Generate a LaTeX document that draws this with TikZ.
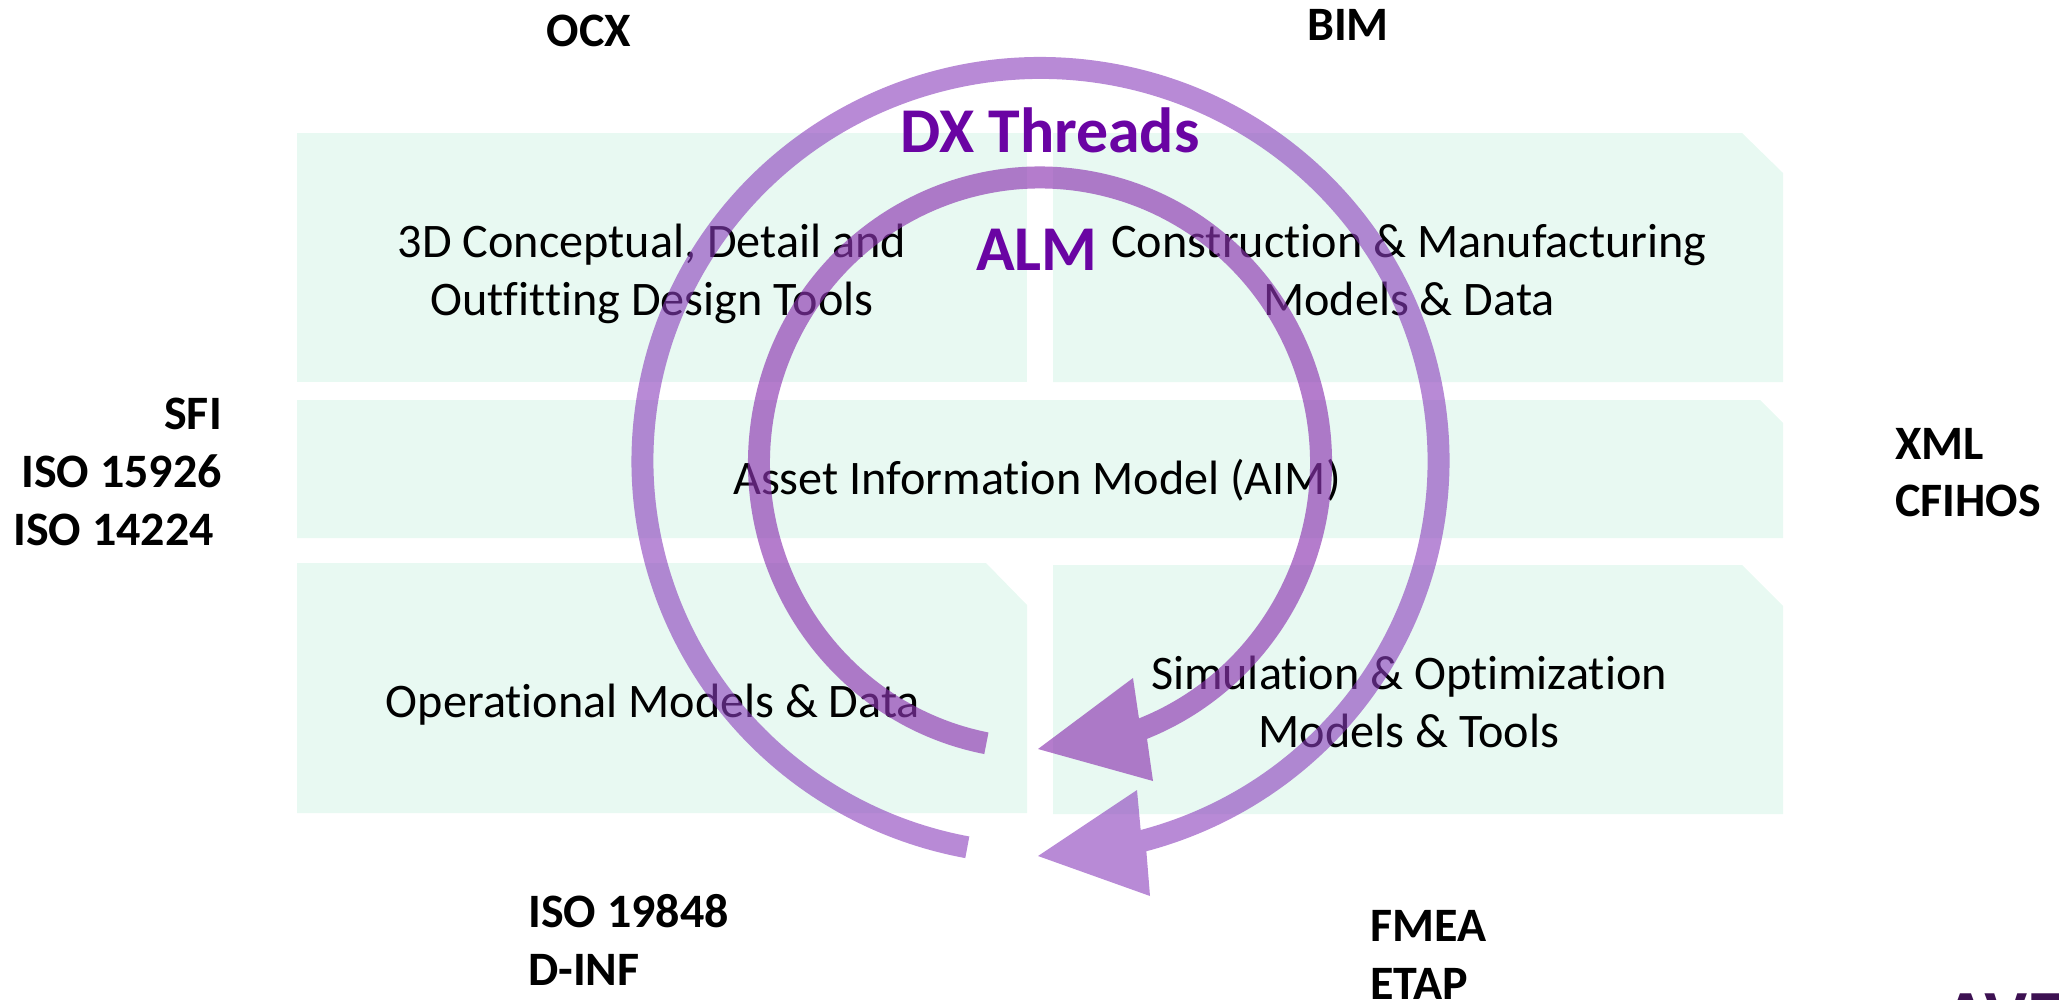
\documentclass[tikz,border=0pt]{standalone}
\usepackage{fontspec}
\usetikzlibrary{calc}
\setmainfont[Ligatures=CommonOff]{Carlito}
\newfontfamily\logofont{Liberation Sans}
\definecolor{mint}{HTML}{E8F9F2}
\definecolor{ringouter}{RGB}{137,60,187}
\definecolor{ringinner}{RGB}{140,53,177}
\definecolor{threadtext}{HTML}{6A04A3}
\definecolor{logopurple}{HTML}{3D1152}
\tikzset{
  panel/.style={fill=mint,draw=none},
  bodytext/.style={inner sep=0pt,anchor=base,align=center,text=black,font=\fontsize{48.2}{58}\selectfont},
  tag/.style={inner sep=0pt,font=\bfseries\fontsize{48}{58}\selectfont,text=black},
  tagleft/.style={tag,anchor=base west},
  tagright/.style={tag,anchor=base east},
  tagmid/.style={tag,anchor=base},
  threadlabel/.style={inner sep=0pt,anchor=base,text=threadtext,font=\bfseries\fontsize{63.8}{70}\selectfont},
}
\begin{document}
\begin{tikzpicture}[x=1pt,y=-1pt]
\useasboundingbox (0,0) rectangle (2059,999);
\clip (0,0) rectangle (2059,999);
% panels
\fill[panel] (297,133) -- (1027,133) -- (1027,382) -- (297,382) -- cycle;
\fill[panel] (1053,133) -- (1742,133) -- (1783,173) -- (1783,382) -- (1053,382) -- cycle;
\fill[panel] (297,400) -- (1760,400) -- (1783,423) -- (1783,538) -- (297,538) -- cycle;
\fill[panel] (297,563) -- (986,563) -- (1027,605) -- (1027,813) -- (297,813) -- cycle;
\fill[panel] (1053,565) -- (1742,565) -- (1783,606) -- (1783,814) -- (1053,814) -- cycle;
% panel texts (a two-line node sits on the baseline of its last line)
\node[bodytext] (design) at (652,315) {3D Conceptual, Detail and\\Outfitting Design Tools};
\node[bodytext] (construction) at (1409,315) {Construction \& Manufacturing\\Models \& Data};
\node[bodytext] (aim) at (1037,494) {Asset Information Model (AIM)};
\node[bodytext] (operational) at (653,717.5) {Operational Models \& Data};
\node[bodytext] (simulation) at (1409,747) {Simulation \& Optimization\\Models \& Tools};
% rings
\fill[ringouter,opacity=.6] (1040.5,461) ++(100.6:409 and 404)
  arc[start angle=100.6,end angle=435,x radius=409,y radius=404]
  -- (1150,896) -- (1038,856) -- (1137,790)
  -- ($(1040.5,461)+(435:387 and 382)$)
  arc[start angle=435,end angle=100.6,x radius=387,y radius=382] -- cycle;
\fill[ringinner,opacity=.65] (1040,463) ++(101:292 and 296.5)
  arc[start angle=101,end angle=428.5,x radius=292,y radius=296.5]
  -- (1153,781) -- (1038,749) -- (1133,678)
  -- ($(1040,463)+(428.5:270 and 274.5)$)
  arc[start angle=428.5,end angle=101,x radius=270,y radius=274.5] -- cycle;
% ring labels
\node[threadlabel] (dx) at (1050,152) {DX Threads};
\node[threadlabel] (alm) at (1037,270) {ALM};
% outer tags
\node[tagmid] (ocx) at (589,46) {OCX};
\node[tagmid] (bim) at (1348,40.5) {BIM};
\node[tagright] (sfi) at (222,429) {SFI};
\node[tagright] (iso15926) at (222,487) {ISO 15926};
\node[tagleft] (iso14224) at (13,545.5) {ISO 14224};
\node[tagleft] (xml) at (1895,459) {XML};
\node[tagleft] (cfihos) at (1895,516.5) {CFIHOS};
\node[tagleft] (iso19848) at (528,927.5) {ISO 19848};
\node[tagleft] (dinf) at (528,985.5) {D-INF};
\node[tagleft] (fmea) at (1370,941.5) {FMEA};
\node[tagleft] (etap) at (1370,999.5) {ETAP};
% cropped logo
\node[inner sep=0pt,anchor=base west,text=logopurple,font=\logofont\bfseries\fontsize{65}{70}\selectfont] (logo) at (1942,1038) {AVE};
\end{tikzpicture}
\end{document}
